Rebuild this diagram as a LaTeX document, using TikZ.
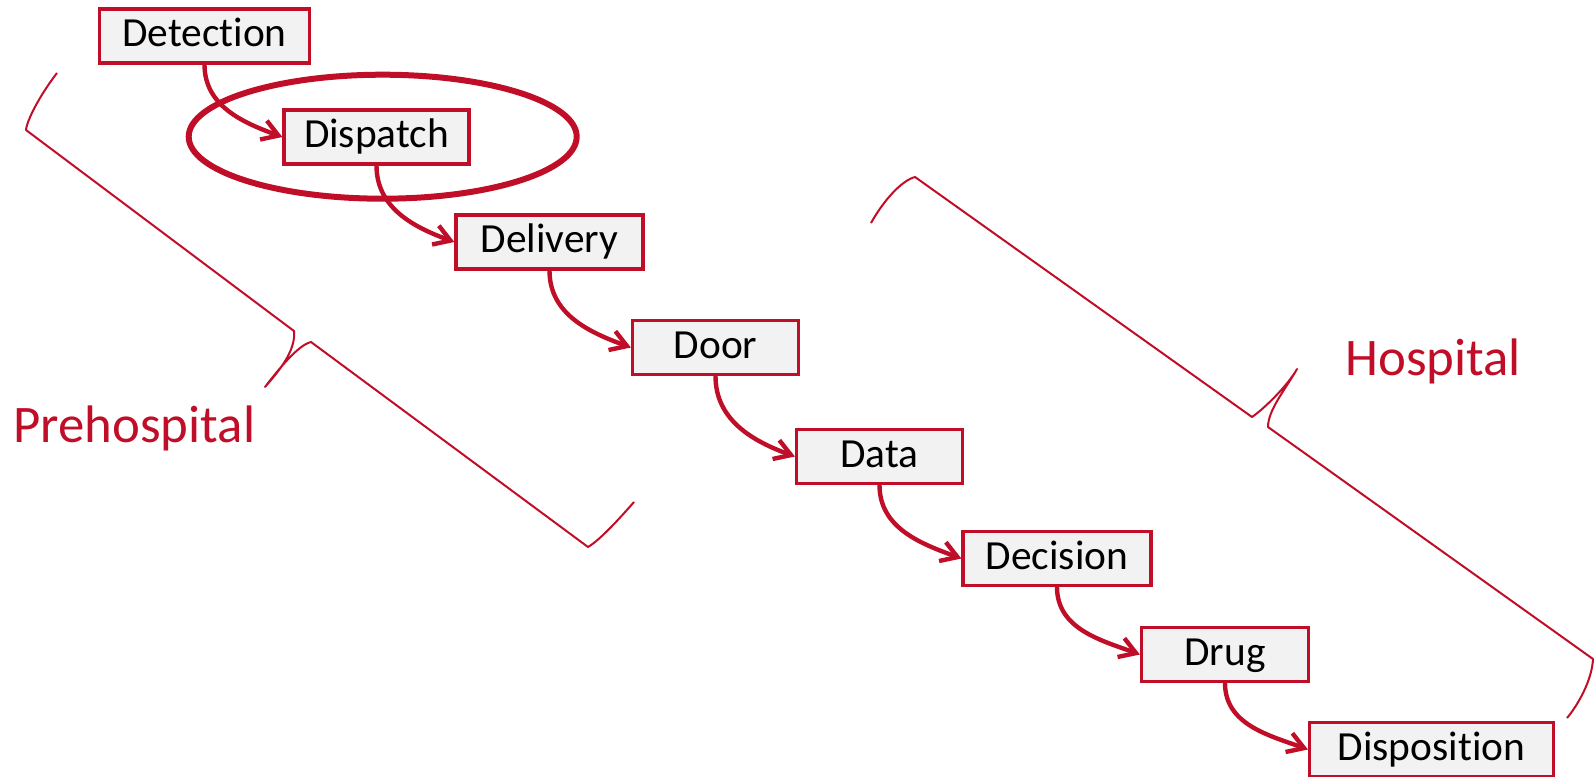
\documentclass[tikz,border=0pt]{standalone}
\usepackage{fontspec}
\setmainfont{Carlito}[Ligatures=NoCommon]
\usetikzlibrary{arrows.meta, shapes.geometric}
\definecolor{hospred}{RGB}{193,14,40}
\definecolor{boxgray}{RGB}{242,242,242}

\begin{document}
\begin{tikzpicture}[x=0.5pt, y=0.5pt,
		stage/.style={rectangle, draw=hospred, fill=boxgray, line width=1.6pt, inner xsep=0pt,
			minimum height=26.5pt, text height=15.5pt, text depth=4.8pt,
			font=\fontsize{20.7}{24}\selectfont},
		flow edge/.style={hospred, line width=2.2pt, -{Straight Barb[length=8pt, width=10pt]}},
		brace edge/.style={hospred, line width=1pt, line join=round},
		focus ring/.style={ellipse, draw=hospred, line width=3pt, inner sep=0pt},
		side label/.style={hospred, inner sep=0pt, anchor=base west, font=\fontsize{26.4}{30}\selectfont}
		]
		\useasboundingbox (0, 0) rectangle (1594, -776);
		
		% the eight steps
		\node[stage, minimum width=105pt] (detection) at (204.5, -36) {Detection};
		\node[stage, minimum width=92.5pt] (dispatch) at (376.5, -137) {Dispatch};
		\node[stage, minimum width=93.5pt] (delivery) at (549.5, -242) {Delivery};
		\node[stage, minimum width=83pt] (door) at (715.5, -347.5) {Door};
		\node[stage, minimum width=83pt] (data) at (879.5, -456.5) {Data};
		\node[stage, minimum width=94pt] (decision) at (1057, -558.5) {Decision};
		\node[stage, minimum width=83.5pt] (drug) at (1225, -654.5) {Drug};
		\node[stage, minimum width=122pt] (disposition) at (1431.5, -749.5) {Disposition};
		
		\node[focus ring, minimum width=194pt, minimum height=62pt] (focus) at (382.7, -136.7) {};
		
		\draw[flow edge] (detection.south) to[out=-90, in=160] (dispatch.west);
		\draw[flow edge] (dispatch.south) to[out=-90, in=160] (delivery.west);
		\draw[flow edge] (delivery.south) to[out=-90, in=160] (door.west);
		\draw[flow edge] (door.south) to[out=-90, in=160] (data.west);
		\draw[flow edge] (data.south) to[out=-90, in=160] (decision.west);
		\draw[flow edge] (decision.south) to[out=-90, in=160] (drug.west);
		\draw[flow edge] (drug.south) to[out=-90, in=160] (disposition.west);
		
		% braces
		\draw[brace edge] (57, -73) .. controls (40, -95) and (27, -120) .. (26, -130)
			-- (294, -331) .. controls (296, -350) and (280, -370) .. (265, -387)
			.. controls (278, -370) and (298, -345) .. (311, -342)
			-- (588, -547) .. controls (600, -540) and (620, -518) .. (634, -502);
		\draw[brace edge] (871, -223) .. controls (885, -198) and (903, -180) .. (915, -177)
			-- (1252, -417) .. controls (1265, -408) and (1288, -385) .. (1297, -369)
			.. controls (1285, -390) and (1268, -410) .. (1268, -427)
			-- (1593, -659) .. controls (1592, -680) and (1578, -705) .. (1567, -718);
		
		\node[side label] (prehospital) at (13, -442) {Prehospital};
		\node[side label] (hospital) at (1345, -375) {Hospital};
	\end{tikzpicture}
\end{document}
